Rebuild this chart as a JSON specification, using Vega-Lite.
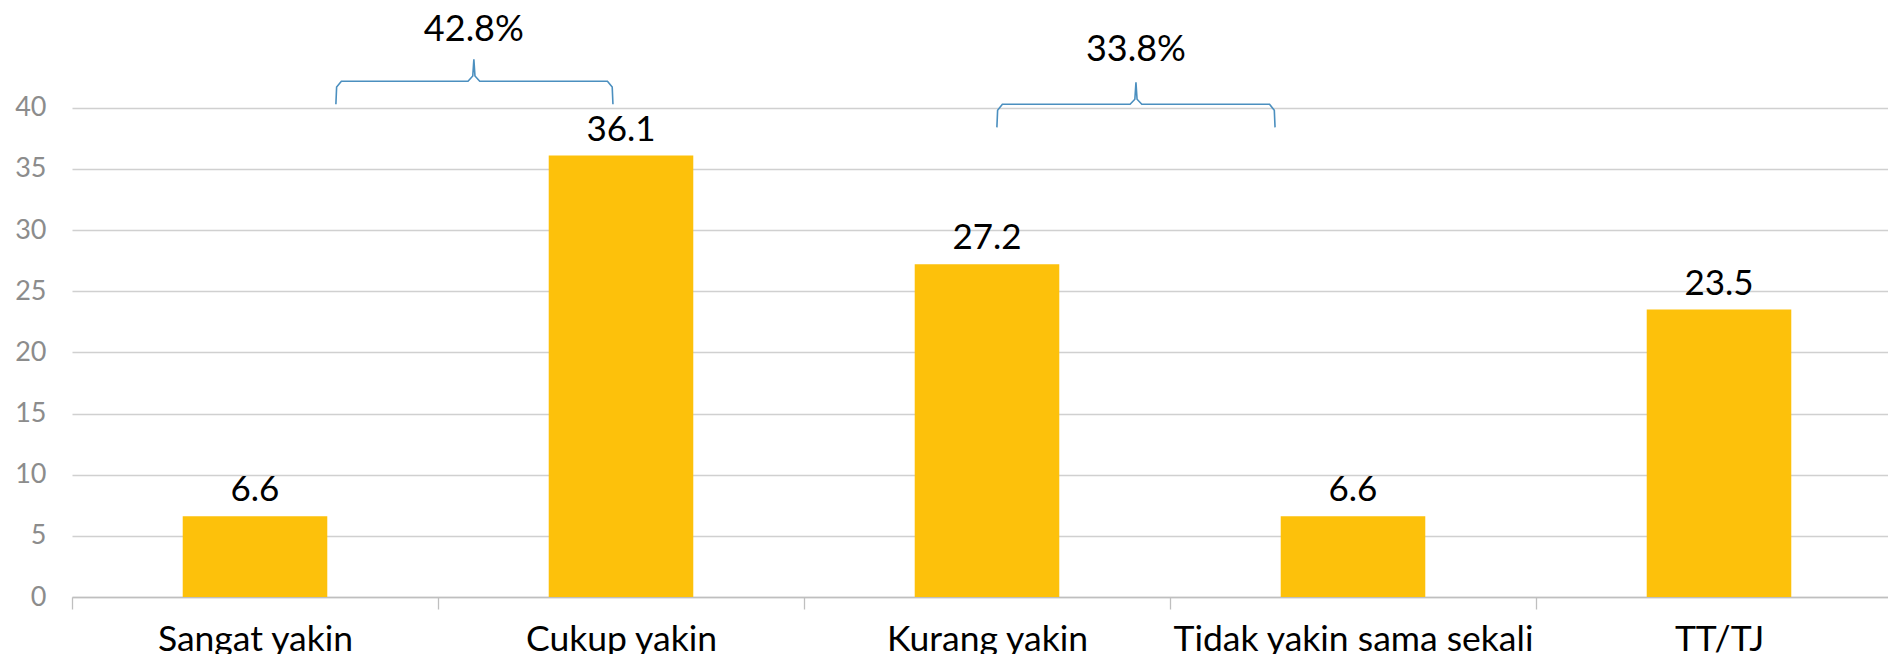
{
  "$schema": "https://vega.github.io/schema/vega-lite/v6.json",
  "width": 1816,
  "height": 587,
  "autosize": {"type": "none"},
  "padding": {"left": 72, "top": 10, "right": 0, "bottom": 57},
  "background": "white",
  "config": {"view": {"stroke": null}, "font": "Lato"},
  "datasets": {
    "bars": [
      {"kategori": "Sangat yakin", "nilai": 6.6},
      {"kategori": "Cukup yakin", "nilai": 36.1},
      {"kategori": "Kurang yakin", "nilai": 27.2},
      {"kategori": "Tidak yakin sama sekali", "nilai": 6.6},
      {"kategori": "TT/TJ", "nilai": 23.5}
    ],
    "brace": [
      {"grup": "a", "urut": 1, "px": 0.721, "py": 40.29},
      {"grup": "a", "urut": 2, "px": 0.723, "py": 41.7},
      {"grup": "a", "urut": 3, "px": 0.736, "py": 42.17},
      {"grup": "a", "urut": 4, "px": 1.082, "py": 42.17},
      {"grup": "a", "urut": 5, "px": 1.095, "py": 42.6},
      {"grup": "a", "urut": 6, "px": 1.098, "py": 43.97},
      {"grup": "a", "urut": 7, "px": 1.101, "py": 42.6},
      {"grup": "a", "urut": 8, "px": 1.114, "py": 42.17},
      {"grup": "a", "urut": 9, "px": 1.463, "py": 42.17},
      {"grup": "a", "urut": 10, "px": 1.476, "py": 41.7},
      {"grup": "a", "urut": 11, "px": 1.478, "py": 40.29},
      {"grup": "b", "urut": 1, "px": 2.527, "py": 38.4},
      {"grup": "b", "urut": 2, "px": 2.529, "py": 39.8},
      {"grup": "b", "urut": 3, "px": 2.542, "py": 40.29},
      {"grup": "b", "urut": 4, "px": 2.891, "py": 40.29},
      {"grup": "b", "urut": 5, "px": 2.904, "py": 40.7},
      {"grup": "b", "urut": 6, "px": 2.907, "py": 42.09},
      {"grup": "b", "urut": 7, "px": 2.910, "py": 40.7},
      {"grup": "b", "urut": 8, "px": 2.923, "py": 40.29},
      {"grup": "b", "urut": 9, "px": 3.272, "py": 40.29},
      {"grup": "b", "urut": 10, "px": 3.285, "py": 39.8},
      {"grup": "b", "urut": 11, "px": 3.287, "py": 38.4}
    ],
    "persen": [
      {"teks": "42.8%", "px": 1.098, "py": 46.4},
      {"teks": "33.8%", "px": 2.907, "py": 44.7}
    ]
  },
  "layer": [
    {
      "data": {"name": "bars"},
      "layer": [
        {
          "mark": {"type": "bar", "color": "#FDC10B"},
          "encoding": {
            "x": {
              "field": "kategori", "type": "nominal", "sort": null,
              "scale": {"range": [0, 1830], "paddingInner": 0.605, "paddingOuter": 0.3025},
              "axis": {
                "title": null, "labelAngle": 0, "labelFontSize": 35.5, "labelColor": "#000000",
                "labelFont": "Lato", "labelLimit": 0, "labelOverlap": false,
                "domainColor": "#bfbfbf", "domainWidth": 1.3, "tickColor": "#bfbfbf", "tickWidth": 1.3,
                "tickSize": 12, "tickOffset": -183, "labelOffset": 183, "labelPadding": 13, "grid": false
              }
            },
            "y": {
              "field": "nilai", "type": "quantitative",
              "scale": {"domain": [0, 48], "nice": false},
              "axis": {
                "title": null, "values": [0, 5, 10, 15, 20, 25, 30, 35, 40], "domain": false, "ticks": false,
                "labelFontSize": 27, "labelColor": "#8c8c8c", "labelPadding": 26, "labelFont": "Lato",
                "gridColor": "#d0d0d0", "gridWidth": 1.3
              }
            }
          }
        },
        {
          "mark": {"type": "text", "baseline": "alphabetic", "dy": -15, "fontSize": 35, "color": "#000000", "font": "Lato"},
          "encoding": {
            "x": {"field": "kategori", "type": "nominal", "sort": null},
            "y": {"field": "nilai", "type": "quantitative", "scale": {"domain": [0, 48], "nice": false}},
            "text": {"field": "nilai", "type": "quantitative", "format": ".1f"}
          }
        }
      ]
    },
    {
      "layer": [
        {
          "data": {"name": "brace"},
          "mark": {"type": "line", "color": "#4b8fbf", "strokeWidth": 1.6, "interpolate": "linear"},
          "encoding": {
            "x": {"field": "px", "type": "quantitative", "scale": {"domain": [0, 5], "range": [0, 1830], "nice": false, "zero": false}, "axis": null},
            "y": {"field": "py", "type": "quantitative", "scale": {"domain": [0, 48], "nice": false}},
            "detail": {"field": "grup"},
            "order": {"field": "urut"}
          }
        },
        {
          "data": {"name": "persen"},
          "mark": {"type": "text", "baseline": "middle", "fontSize": 36, "color": "#000000", "font": "Lato"},
          "encoding": {
            "x": {"field": "px", "type": "quantitative", "scale": {"domain": [0, 5], "range": [0, 1830], "nice": false, "zero": false}, "axis": null},
            "y": {"field": "py", "type": "quantitative", "scale": {"domain": [0, 48], "nice": false}},
            "text": {"field": "teks"}
          }
        }
      ]
    }
  ],
  "resolve": {"scale": {"x": "independent"}, "axis": {"x": "independent"}}
}
